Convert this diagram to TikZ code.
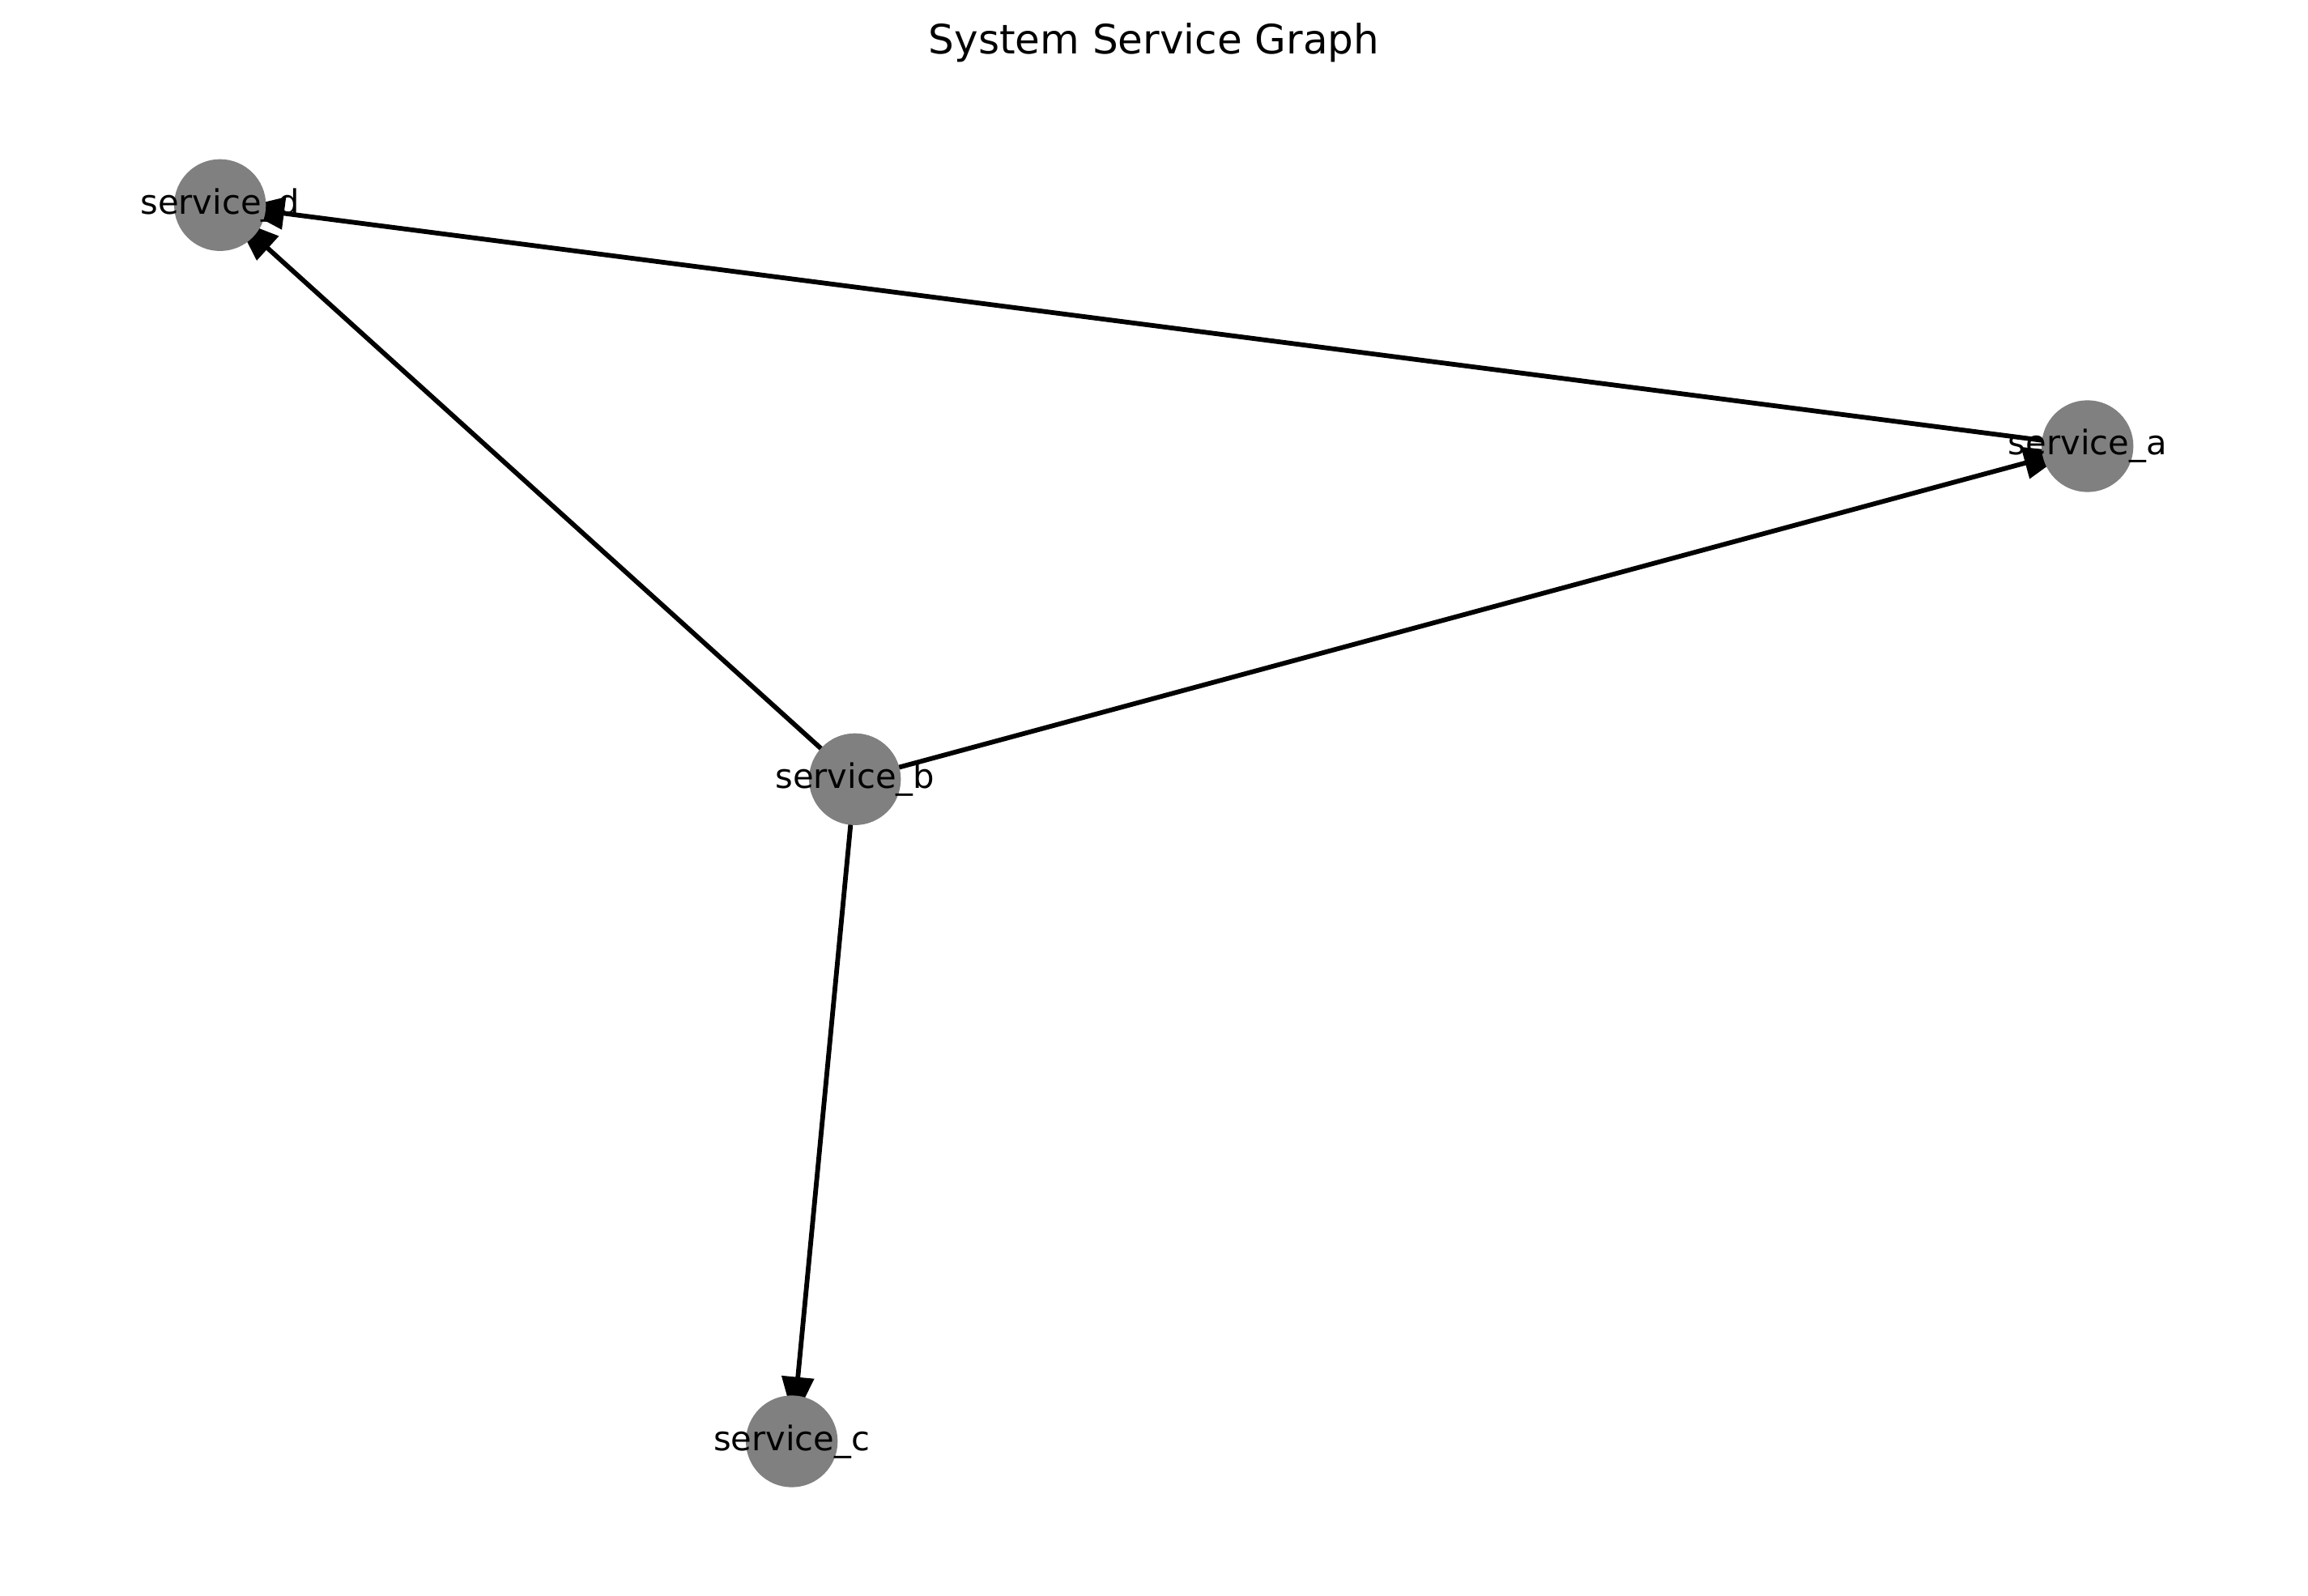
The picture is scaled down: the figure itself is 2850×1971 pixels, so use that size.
\documentclass[tikz,border=0pt]{standalone}
\usepackage{fontspec}
\setmainfont{DejaVu Sans}
\usetikzlibrary{arrows.meta}
\begin{document}
\begin{tikzpicture}[x=0.24pt,y=-0.24pt,
  svc/.style={circle,minimum size=27.2pt,inner sep=0pt},
  svcfill/.style={fill=gray},
  lbl/.style={anchor=base,inner sep=0pt,font=\fontsize{10pt}{12pt}\selectfont},
  edge/.style={line width=1.4pt,-{Triangle[length=12.9pt,width=9.4pt]},shorten >=-7.6pt}]
\useasboundingbox (0,0) rectangle (2850,1971);
\node[anchor=base,inner sep=0pt,font=\fontsize{12pt}{14pt}\selectfont] (title) at (1425,67) {System Service Graph};
\node[svc] (a) at (2577.7,551) {};
\node[svc] (b) at (1055.7,962.3) {};
\node[svc] (c) at (977.7,1780) {};
\node[svc] (d) at (271.7,253.3) {};
\draw[edge] (b.center) -- (d);
\draw[edge] (a.center) -- (d);
\draw[edge] (b.center) -- (a);
\draw[edge] (b.center) -- (c);
\foreach \n in {a,b,c,d} { \fill[svcfill] (\n.center) circle (13.6pt); }
\node[lbl] (la) at (2577.7,562) {service\_a};
\node[lbl] (lb) at (1055.7,973.3) {service\_b};
\node[lbl] (lc) at (977.7,1791) {service\_c};
\node[lbl] (ld) at (271.7,264.3) {service\_d};
\end{tikzpicture}
\end{document}
